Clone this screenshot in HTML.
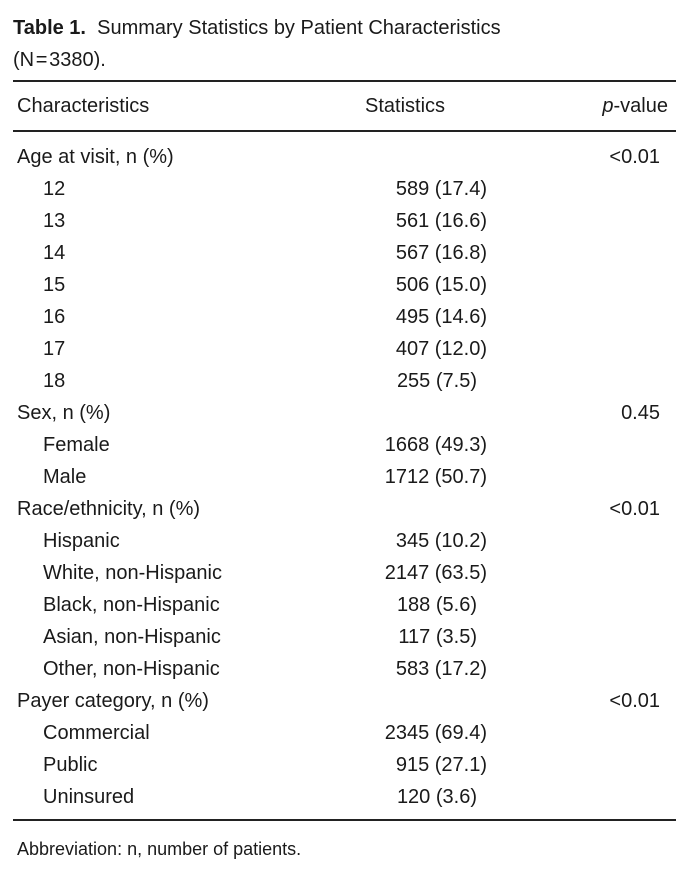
<!DOCTYPE html>
<html><head><meta charset="utf-8"><style>
body{margin:0;width:692px;height:877px;background:#fff;font-family:"Liberation Sans",sans-serif;color:#1a1a1a;position:relative;overflow:hidden}
.t{position:absolute;font-size:20px;line-height:24px;white-space:nowrap}
.r{position:absolute;left:0;width:692px;height:24px;font-size:20px;line-height:24px}
.r span{position:absolute;white-space:nowrap}
.c1{left:17px}.c1.i{left:43px}
.c2{right:205px}
.c3{right:32px}
.rule{position:absolute;left:13px;width:663px;height:1.5px;background:#222}
</style></head><body>
<div class="t" style="left:13px;top:16px"><b>Table 1.</b>&nbsp; Summary Statistics by Patient Characteristics</div>
<div class="t" style="left:13px;top:48px">(N&#8202;=&#8202;3380).</div>
<div class="rule" style="top:80px"></div>
<div class="r" style="top:94px"><span class="c1">Characteristics</span><span style="left:365px">Statistics</span><span style="right:24px"><i>p</i>-value</span></div>
<div class="rule" style="top:130px"></div>
<div class="r" style="top:145px"><span class="c1">Age at visit, n (%)</span><span class="c3">&lt;0.01</span></div>
<div class="r" style="top:177px"><span class="c1 i">12</span><span class="c2">589 (17.4)</span></div>
<div class="r" style="top:209px"><span class="c1 i">13</span><span class="c2">561 (16.6)</span></div>
<div class="r" style="top:241px"><span class="c1 i">14</span><span class="c2">567 (16.8)</span></div>
<div class="r" style="top:273px"><span class="c1 i">15</span><span class="c2">506 (15.0)</span></div>
<div class="r" style="top:305px"><span class="c1 i">16</span><span class="c2">495 (14.6)</span></div>
<div class="r" style="top:337px"><span class="c1 i">17</span><span class="c2">407 (12.0)</span></div>
<div class="r" style="top:369px"><span class="c1 i">18</span><span class="c2" style="right:215px">255 (7.5)</span></div>
<div class="r" style="top:401px"><span class="c1">Sex, n (%)</span><span class="c3">0.45</span></div>
<div class="r" style="top:433px"><span class="c1 i">Female</span><span class="c2">1668 (49.3)</span></div>
<div class="r" style="top:465px"><span class="c1 i">Male</span><span class="c2">1712 (50.7)</span></div>
<div class="r" style="top:497px"><span class="c1">Race/ethnicity, n (%)</span><span class="c3">&lt;0.01</span></div>
<div class="r" style="top:529px"><span class="c1 i">Hispanic</span><span class="c2">345 (10.2)</span></div>
<div class="r" style="top:561px"><span class="c1 i">White, non-Hispanic</span><span class="c2">2147 (63.5)</span></div>
<div class="r" style="top:593px"><span class="c1 i">Black, non-Hispanic</span><span class="c2" style="right:215px">188 (5.6)</span></div>
<div class="r" style="top:625px"><span class="c1 i">Asian, non-Hispanic</span><span class="c2" style="right:215px">117 (3.5)</span></div>
<div class="r" style="top:657px"><span class="c1 i">Other, non-Hispanic</span><span class="c2">583 (17.2)</span></div>
<div class="r" style="top:689px"><span class="c1">Payer category, n (%)</span><span class="c3">&lt;0.01</span></div>
<div class="r" style="top:721px"><span class="c1 i">Commercial</span><span class="c2">2345 (69.4)</span></div>
<div class="r" style="top:753px"><span class="c1 i">Public</span><span class="c2">915 (27.1)</span></div>
<div class="r" style="top:785px"><span class="c1 i">Uninsured</span><span class="c2" style="right:215px">120 (3.6)</span></div>
<div class="rule" style="top:819px"></div>
<div class="t" style="left:17px;top:837px;font-size:18px">Abbreviation: n, number of patients.</div>
</body></html>
